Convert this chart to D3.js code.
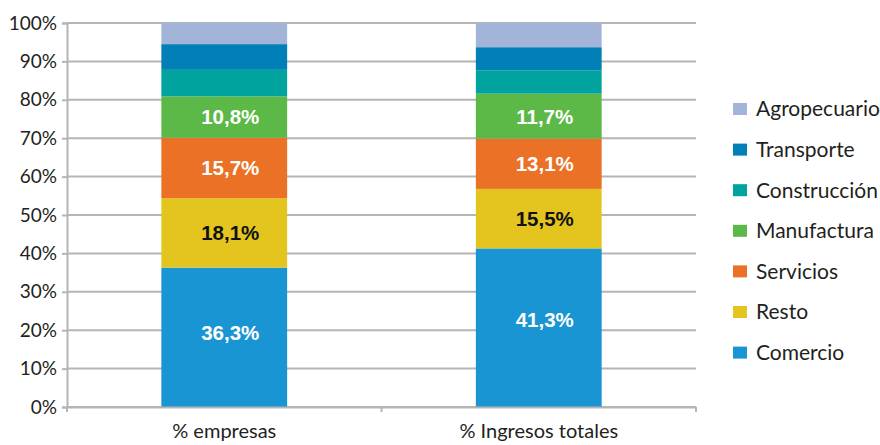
<!DOCTYPE html>
<html>
<head>
<meta charset="utf-8">
<script src="https://cdn.jsdelivr.net/npm/d3@7"></script>
<style>
  body { margin: 0; background: #fff; }
  svg { display: block; }
</style>
</head>
<body>
<svg id="chart" width="880" height="445"></svg>
<script>
// Sector shares: firms vs. total revenue (stacked to 100%)
const categories = ["% empresas", "% Ingresos totales"];
const sectors = ["Comercio", "Resto", "Servicios", "Manufactura", "Construcción", "Transporte", "Agropecuario"];
const empresas = [36.3, 18.1, 15.7, 10.8, 6.9, 6.7, 5.5];
const ingresos = [41.3, 15.5, 13.1, 11.7, 6.1, 6.0, 6.3];
const labelled = ["Comercio", "Resto", "Servicios", "Manufactura"];
const yTicks = [0, 10, 20, 30, 40, 50, 60, 70, 80, 90, 100];

const colors = {
  "Comercio": "#1a95d3",
  "Resto": "#e4c51f",
  "Servicios": "#ea7125",
  "Manufactura": "#5cb947",
  "Construcción": "#01a39e",
  "Transporte": "#0180b7",
  "Agropecuario": "#a2b5d8"
};

const svg = d3.select("#chart");
const margin = { left: 67, right: 184, top: 23, bottom: 38 };
const W = 880, H = 445;

const rows = categories.map((c, i) => {
  const vals = i === 0 ? empresas : ingresos;
  const r = { category: c };
  sectors.forEach((s, j) => r[s] = vals[j]);
  return r;
});

const x = d3.scaleBand().domain(categories).range([margin.left, W - margin.right]).paddingInner(0.6).paddingOuter(0.3);
const y = d3.scaleLinear().domain([0, 100]).range([H - margin.bottom, margin.top]);

const fontAxis = "Lato, 'Open Sans', sans-serif";

// gridlines
svg.append("g")
  .selectAll("line")
  .data(yTicks)
  .join("line")
  .attr("x1", margin.left).attr("x2", W - margin.right)
  .attr("y1", d => y(d)).attr("y2", d => y(d))
  .attr("stroke", "#b5b5b5").attr("stroke-width", 2);

// stacked bars
const stack = d3.stack().keys(sectors)(rows);
svg.append("g")
  .selectAll("g")
  .data(stack)
  .join("g")
  .attr("fill", d => colors[d.key])
  .selectAll("rect")
  .data(d => d.map(p => Object.assign(p, { key: d.key })))
  .join("rect")
  .attr("x", d => x(d.data.category))
  .attr("width", x.bandwidth())
  .attr("y", d => y(d[1]))
  .attr("height", d => y(d[0]) - y(d[1]));

// value labels (the tall bottom segment carries its label a little above centre)
const fmt = v => v.toFixed(1).replace(".", ",") + "%";
const lift = { "Comercio": [5, 8] };
svg.append("g")
  .selectAll("g")
  .data(stack.filter(s => labelled.includes(s.key)))
  .join("g")
  .selectAll("text")
  .data(d => d)
  .join("text")
  .attr("x", d => x(d.data.category) + x.bandwidth() / 2 + 6)
  .attr("y", (d, i) => (y(d[0]) + y(d[1])) / 2 - (lift[d.key] ? lift[d.key][i] : 0))
  .attr("dy", "0.36em")
  .attr("text-anchor", "middle")
  .attr("font-family", "'Liberation Sans', Arial, sans-serif")
  .attr("font-weight", "bold")
  .attr("font-size", 20.5)
  .attr("fill", d => d.key === "Resto" ? "#111" : "#fff")
  .text(d => fmt(d.data[d.key]));

// y axis
const yAxis = svg.append("g")
  .attr("transform", `translate(${margin.left},0)`)
  .call(d3.axisLeft(y).tickValues(yTicks).tickFormat(d => d + "%").tickSize(5).tickPadding(5));
yAxis.select(".domain").attr("stroke", "#b5b5b5").attr("stroke-width", 2);
yAxis.selectAll(".tick line").attr("stroke", "#b5b5b5").attr("stroke-width", 2);
yAxis.selectAll("text").attr("font-family", fontAxis).attr("font-size", 19).attr("fill", "#231f20");

// x axis
const bounds = [margin.left, margin.left + (W - margin.left - margin.right) / 2, W - margin.right];
const xAxis = svg.append("g")
  .attr("transform", `translate(0,${y(0)})`)
  .call(d3.axisBottom(x).tickSize(0).tickPadding(17));
xAxis.select(".domain").attr("stroke", "#b5b5b5").attr("stroke-width", 2);
xAxis.selectAll("text").attr("font-family", fontAxis).attr("font-size", 20).attr("fill", "#231f20");
xAxis.selectAll("line.sep")
  .data(bounds)
  .join("line")
  .attr("class", "sep")
  .attr("x1", d => d).attr("x2", d => d)
  .attr("y1", 0).attr("y2", 5)
  .attr("stroke", "#b5b5b5").attr("stroke-width", 2);

// legend (top to bottom mirrors the stack order)
const legendItems = sectors.slice().reverse();
const legend = svg.append("g").attr("transform", "translate(733,109)");
const li = legend.selectAll("g")
  .data(legendItems)
  .join("g")
  .attr("transform", (d, i) => `translate(0,${i * 40.6})`);
li.append("rect")
  .attr("x", 0).attr("y", -6).attr("width", 14).attr("height", 12)
  .attr("fill", d => colors[d]);
li.append("text")
  .attr("x", 23).attr("y", 0).attr("dy", "0.35em")
  .attr("font-family", fontAxis).attr("font-size", 21).attr("fill", "#231f20")
  .text(d => d);
</script>
</body>
</html>
